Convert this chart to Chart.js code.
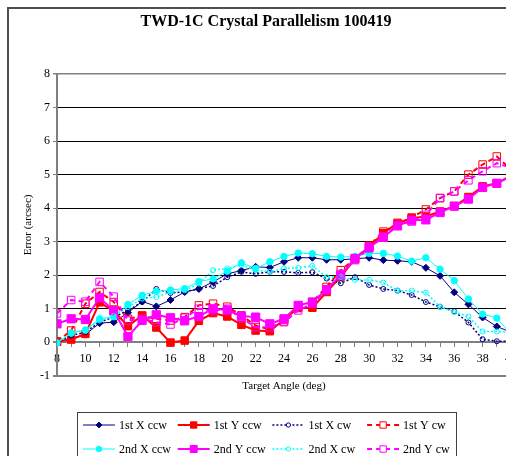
<!DOCTYPE html>
<html>
<head>
<meta charset="utf-8">
<title>TWD-1C Crystal Parallelism 100419</title>
<script src="https://cdn.jsdelivr.net/npm/chart.js@4.4.1/dist/chart.umd.min.js"></script>
<style>
  html, body { margin: 0; padding: 0; background: #fff; overflow: hidden; }
  #wrap { width: 532px; height: 480px; }
</style>
</head>
<body>
<div id="wrap"><canvas id="chart" width="532" height="480"></canvas></div>
<script>
// --- data ---
const chartTitle = 'TWD-1C Crystal Parallelism 100419';
const angles = [8, 9, 10, 11, 12, 13, 14, 15, 16, 17, 18, 19, 20, 21, 22, 23, 24,
                25, 26, 27, 28, 29, 30, 31, 32, 33, 34, 35, 36, 37, 38, 39, 40];
const xTickLabels = [8, 10, 12, 14, 16, 18, 20, 22, 24, 26, 28, 30, 32, 34, 36, 38, 40];
const seriesNames = ['1st X ccw', '1st Y ccw', '1st X cw', '1st Y cw',
                     '2nd X ccw', '2nd Y ccw', '2nd X cw', '2nd Y cw'];

const firstXccw  = [0.0, 0.12, 0.23, 0.57, 0.6, 0.88, 1.22, 1.07, 1.26, 1.5, 1.59, 1.8, 2.04, 2.14, 2.25, 2.23, 2.4,
                    2.52, 2.52, 2.46, 2.46, 2.49, 2.52, 2.45, 2.43, 2.4, 2.22, 1.98, 1.49, 1.13, 0.74, 0.47, 0.3];
const firstYccw  = [0.02, 0.08, 0.25, 1.19, 0.93, 0.48, 0.8, 0.44, -0.01, 0.05, 0.64, 0.87, 0.77, 0.52, 0.35, 0.33, 0.68,
                    1.02, 1.03, 1.5, 1.96, 2.48, 2.85, 3.25, 3.56, 3.7, 3.75, 3.9, 4.06, 4.33, 4.65, 4.74, 4.97];
const firstXcw   = [0.0, 0.2, 0.3, 0.6, 0.75, 0.95, 1.2, 1.59, 1.47, 1.5, 1.6, 1.68, 1.94, 2.1, 2.04, 2.1, 2.1,
                    2.07, 2.09, 1.9, 1.76, 1.94, 1.71, 1.59, 1.54, 1.41, 1.2, 1.06, 0.92, 0.59, 0.09, 0.03, 0.03];
const firstYcw   = [0.02, 0.35, 1.15, 1.5, 1.2, 0.7, 0.78, 0.7, 0.65, 0.75, 1.1, 1.15, 1.06, 0.8, 0.5, 0.38, 0.62,
                    1.08, 1.2, 1.65, 2.15, 2.48, 2.88, 3.3, 3.52, 3.72, 3.96, 4.3, 4.5, 5.0, 5.3, 5.54, 5.15];
const secondXccw = [-0.02, 0.28, 0.36, 0.7, 0.76, 1.13, 1.4, 1.52, 1.56, 1.6, 1.81, 1.89, 2.12, 2.37, 2.2, 2.4, 2.56,
                    2.66, 2.64, 2.56, 2.54, 2.56, 2.65, 2.65, 2.57, 2.42, 2.52, 2.18, 1.84, 1.29, 0.84, 0.72, 0.25];
const secondYccw = [0.55, 0.7, 0.68, 1.33, 0.94, 0.17, 0.65, 0.82, 0.73, 0.64, 0.77, 1.0, 0.96, 0.78, 0.75, 0.55, 0.7,
                    1.1, 1.2, 1.57, 2.0, 2.5, 2.83, 3.13, 3.47, 3.64, 3.65, 3.87, 4.06, 4.27, 4.62, 4.74, 4.95];
const secondXcw  = [0.0, 0.25, 0.38, 0.65, 0.78, 1.05, 1.3, 1.35, 1.5, 1.55, 1.75, 2.15, 2.2, 2.3, 2.15, 2.1, 2.2,
                    2.22, 2.28, 1.94, 1.95, 1.86, 1.86, 1.78, 1.54, 1.54, 1.48, 1.06, 0.9, 0.77, 0.32, 0.32, 0.3];
const secondYcw  = [0.86, 1.26, 1.21, 1.8, 1.36, 0.65, 0.7, 0.6, 0.53, 0.73, 1.0, 0.95, 1.0, 0.72, 0.45, 0.45, 0.6,
                    0.95, 1.15, 1.55, 2.04, 2.45, 2.8, 3.15, 3.5, 3.6, 3.8, 4.3, 4.5, 4.83, 5.1, 5.34, 5.2];

// --- styles ---
const NAVY = '#000080', RED = '#ff0000', CYAN = '#00ffff', MAGENTA = '#ff00ff';
const HOLLOW = 'rgba(255,255,255,0)';

Chart.defaults.font.family = '"Liberation Serif", "Times New Roman", serif';
Chart.defaults.color = '#000';

function serie(label, data, color, opts) {
    return Object.assign({
        label: label,
        data: data,
        borderColor: color,
        backgroundColor: color,
        pointBorderColor: color,
        pointBackgroundColor: color,
        borderWidth: 1,
        pointBorderWidth: 1,
        pointHoverRadius: 4,
        tension: 0,
        fill: false
    }, opts);
}

const datasets = [
    serie(seriesNames[0], firstXccw, NAVY, {pointStyle: 'rectRot', pointRadius: 3.5}),
    serie(seriesNames[1], firstYccw, RED, {borderWidth: 2, pointStyle: 'rect', pointRadius: 5.3}),
    serie(seriesNames[2], firstXcw, NAVY, {borderWidth: 1.5, borderDash: [2, 2], pointStyle: 'circle', pointRadius: 2.5, pointBackgroundColor: HOLLOW}),
    serie(seriesNames[3], firstYcw, RED, {borderWidth: 2, borderDash: [5, 4], pointStyle: 'rect', pointRadius: 5.3, pointBackgroundColor: HOLLOW}),
    serie(seriesNames[4], secondXccw, CYAN, {pointStyle: 'circle', pointRadius: 3.2}),
    serie(seriesNames[5], secondYccw, MAGENTA, {borderWidth: 2, pointStyle: 'rect', pointRadius: 5.8}),
    serie(seriesNames[6], secondXcw, CYAN, {borderWidth: 1.5, borderDash: [2, 2], pointStyle: 'circle', pointRadius: 2.5, pointBackgroundColor: HOLLOW}),
    serie(seriesNames[7], secondYcw, MAGENTA, {borderWidth: 2, borderDash: [5, 4], pointStyle: 'rect', pointRadius: 5.3, pointBackgroundColor: HOLLOW})
].map((d, i, arr) => Object.assign(d, {order: arr.length - i})); // later series drawn on top, like Excel

// frame, title and boxed legend (4 columns x 2 rows)
const frameAndLegend = {
    id: 'frameAndLegend',
    beforeDraw(chart) {
        const ctx = chart.ctx;
        ctx.save();
        ctx.fillStyle = '#fff';
        ctx.fillRect(0, 0, chart.width, chart.height);
        ctx.strokeStyle = '#505050';
        ctx.lineWidth = 2;
        ctx.strokeRect(8, 8, 516, 470);
        ctx.fillStyle = '#000';
        ctx.font = 'bold 16px "Liberation Serif"';
        ctx.textAlign = 'center';
        ctx.textBaseline = 'middle';
        ctx.fillText(chartTitle, 266, 22);
        ctx.restore();
    },
    afterDraw(chart) {
        const ctx = chart.ctx;
        ctx.save();
        ctx.strokeStyle = '#404040';
        ctx.lineWidth = 1;
        ctx.strokeRect(77.5, 412.5, 379, 62);
        chart.data.datasets.forEach((ds, i) => {
            const x0 = 83 + (i % 4) * 94.7;
            const y = 425 + Math.floor(i / 4) * 24;
            ctx.strokeStyle = ds.borderColor;
            ctx.lineWidth = ds.borderWidth;
            ctx.setLineDash(ds.borderDash || []);
            ctx.beginPath();
            ctx.moveTo(x0, y);
            ctx.lineTo(x0 + 32, y);
            ctx.stroke();
            ctx.setLineDash([]);
            ctx.fillStyle = ds.pointBackgroundColor === HOLLOW ? '#fff' : ds.pointBackgroundColor;
            ctx.strokeStyle = ds.pointBorderColor;
            ctx.lineWidth = ds.pointBorderWidth;
            Chart.helpers.drawPoint(ctx, {
                pointStyle: ds.pointStyle,
                radius: ds.pointRadius * 0.85,
                rotation: 0,
                borderWidth: ds.pointBorderWidth
            }, x0 + 16, y);
            ctx.fillStyle = '#000';
            ctx.font = '12px "Liberation Serif"';
            ctx.textAlign = 'left';
            ctx.textBaseline = 'middle';
            ctx.fillText(ds.label, x0 + 36, y + 1);
        });
        ctx.restore();
    }
};

const edgeLine = v => v === -1 || v === 0 || v === 8;

new Chart(document.getElementById('chart').getContext('2d'), {
    type: 'line',
    data: { labels: angles, datasets: datasets },
    plugins: [frameAndLegend],
    options: {
        responsive: false,
        animation: false,
        layout: { padding: { left: 8, top: 74, right: 21, bottom: 84 } },
        plugins: {
            legend: { display: false },
            title: { display: false },
            tooltip: { enabled: true }
        },
        scales: {
            x: {
                type: 'linear',
                position: { y: 0 },
                min: 8,
                max: 40,
                grid: { drawOnChartArea: false, drawTicks: true, tickLength: 4, color: '#808080' },
                border: { color: '#808080', width: 2 },
                ticks: {
                    stepSize: 1,
                    autoSkip: false,
                    maxRotation: 0,
                    padding: 5,
                    font: { size: 12 },
                    callback: v => (xTickLabels.includes(v) ? String(v) : '')
                }
            },
            xTitle: {
                type: 'linear',
                axis: 'x',
                position: 'bottom',
                min: 8,
                max: 40,
                ticks: { display: false },
                grid: { display: false, drawTicks: false },
                border: { display: false },
                title: {
                    display: true,
                    text: 'Target Angle (deg)',
                    font: { size: 11 },
                    padding: { top: 4, bottom: 3 }
                }
            },
            y: {
                min: -1,
                max: 8,
                ticks: { stepSize: 1, padding: 3, font: { size: 12 } },
                grid: {
                    color: c => (edgeLine(c.tick.value) ? '#808080' : '#000'),
                    lineWidth: c => (c.tick.value === 8 ? 1.5 : edgeLine(c.tick.value) ? 2 : 1),
                    tickLength: 4,
                    tickColor: '#808080'
                },
                border: { color: '#808080', width: 2 },
                title: {
                    display: true,
                    text: 'Error (arcsec)',
                    font: { size: 11 },
                    padding: { top: 14, bottom: 0 }
                },
                afterFit(scale) { scale.width = 49; }
            }
        }
    }
});
</script>
</body>
</html>
